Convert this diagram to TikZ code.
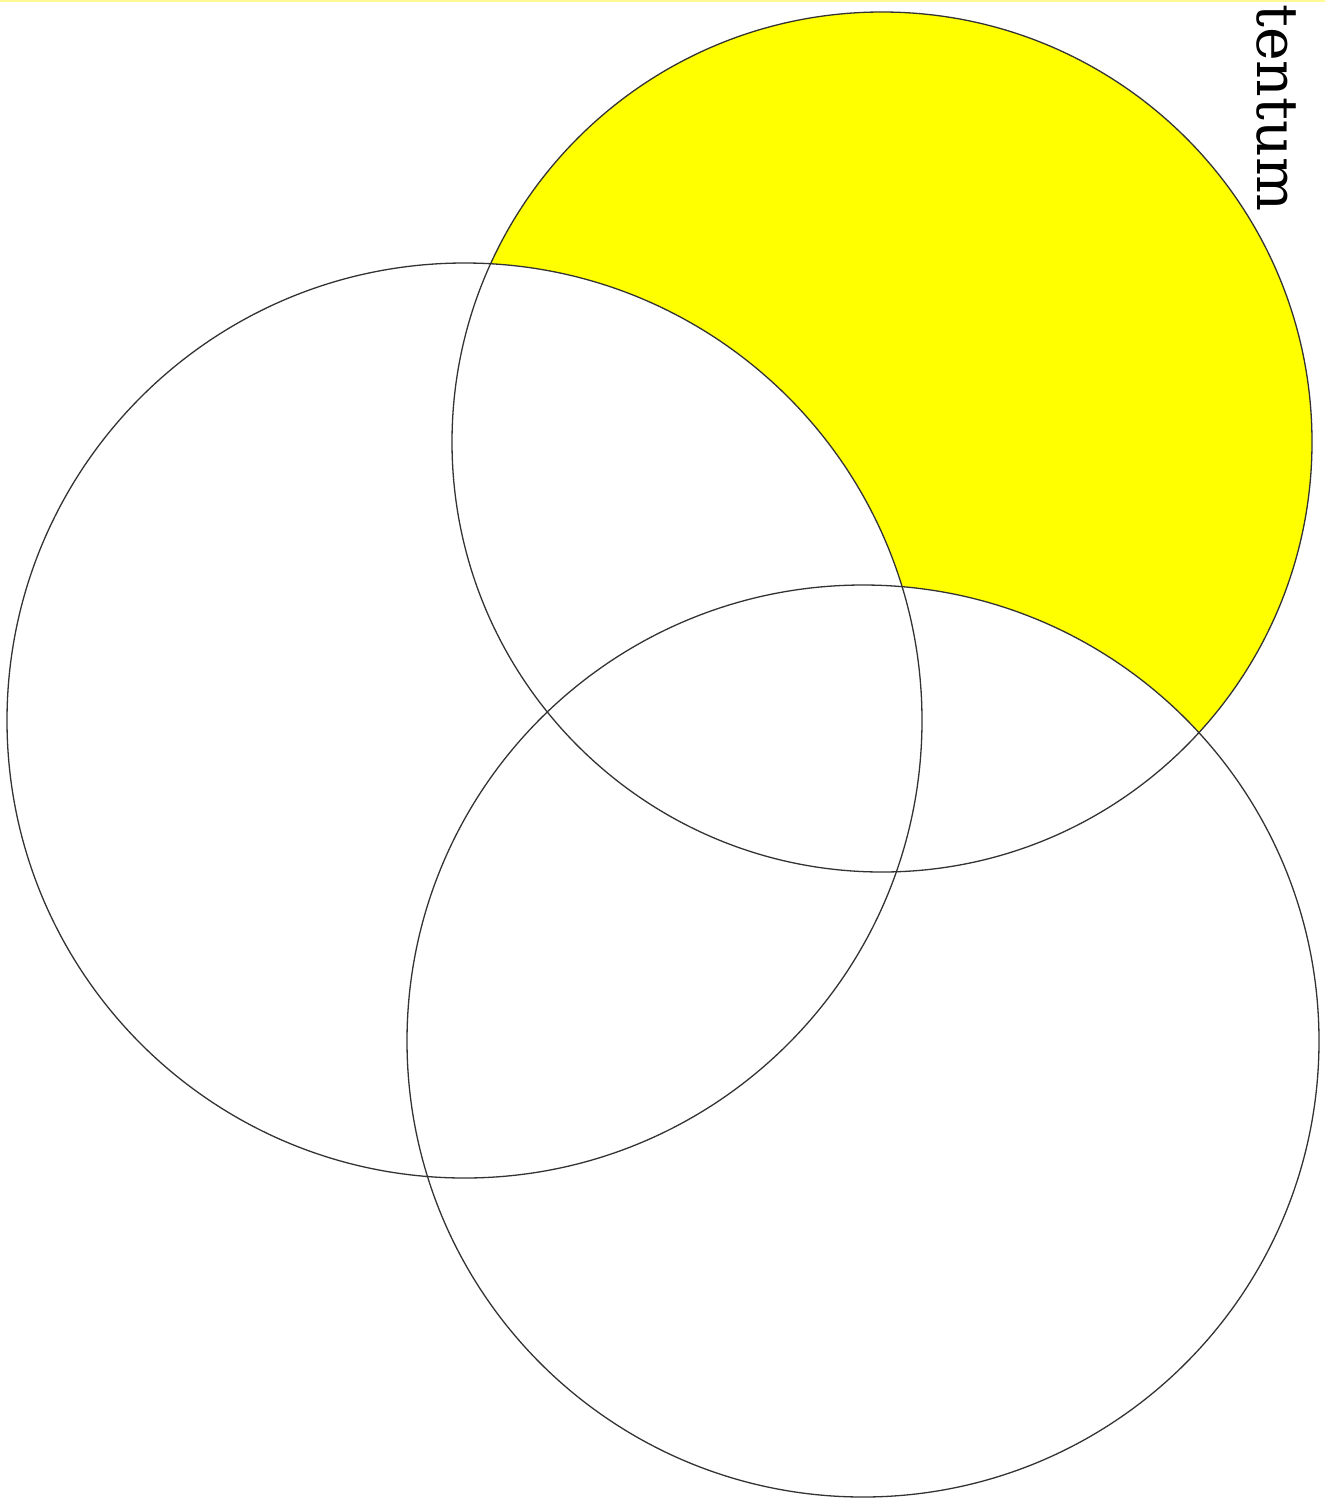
\documentclass[tikz,border=0pt]{standalone}
\usepackage{fontspec}
\newfontfamily\labelfont{DejaVu Serif}
\definecolor{pureyellow}{RGB}{255,255,0}
\definecolor{paleyellow}{RGB}{255,250,150}
\tikzset{
  ring/.style={draw=black!80, line width=1.3pt},
}
\begin{document}
\begin{tikzpicture}[x=1pt,y=-1pt]
\useasboundingbox (0,0) rectangle (1325,1505);
\fill[white] (0,0) rectangle (1325,1505);
% yellow region: A minus B minus C
\fill[pureyellow] (882,442) circle[radius=430];
\fill[white] (464.5,720.5) circle[radius=457.5];
\fill[white] (863,1041) circle[radius=456];
% circles
\draw[ring] (882,442) circle[radius=430];
\draw[ring] (464.5,720.5) circle[radius=457.5];
\draw[ring] (863,1041) circle[radius=456];
% top edge line
\draw[paleyellow, line width=2pt] (0,0.8) -- (1325,0.8);
% label
\node[rotate=-90, anchor=base west, inner sep=0pt, font=\labelfont\fontsize{57}{60}\selectfont] (lbl) at (1257,4) {tentum};
\end{tikzpicture}
\end{document}
